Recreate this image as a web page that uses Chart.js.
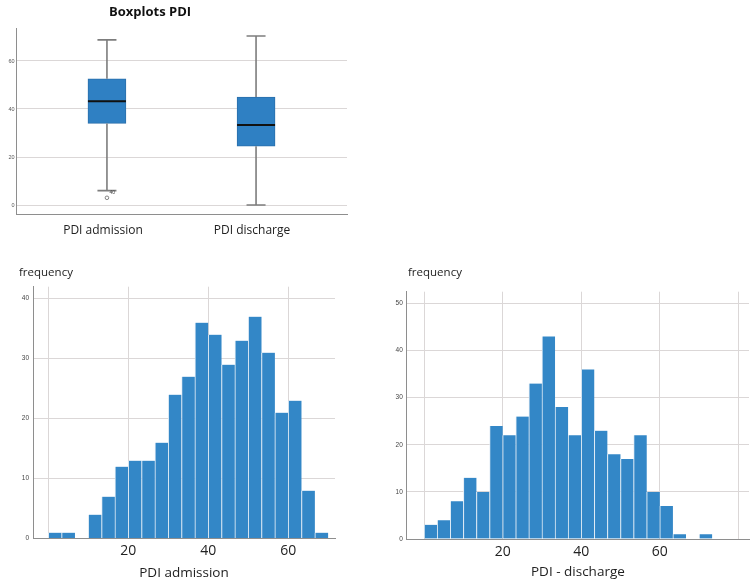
<!DOCTYPE html>
<html><head><meta charset="utf-8">
<script src="https://cdn.jsdelivr.net/npm/chart.js@4.4.1/dist/chart.umd.min.js"></script>
<style>
html,body{margin:0;padding:0;background:#fff;width:753px;height:584px;overflow:hidden;}
canvas{position:absolute;}
#box{left:0;top:0;}
#h1{left:0;top:260px;}
#h2{left:380px;top:260px;}
</style></head><body>
<canvas id="box" width="360" height="245"></canvas>
<canvas id="h1" width="345" height="324"></canvas>
<canvas id="h2" width="373" height="324"></canvas>
<script>
// ---------- data ----------
const BOX_TITLE = 'Boxplots PDI';
const BOX_GROUPS = ['PDI admission', 'PDI discharge'];
const BOX_MIN = [6, 0];
const BOX_Q1 = [34, 24.5];
const BOX_MEDIAN = [43.2, 33.3];
const BOX_Q3 = [52.6, 45];
const BOX_MAX = [68.8, 70.4];
const OUTLIER_GROUP = [0];
const OUTLIER_VALUE = [3];
const OUTLIER_CASE = ['40'];
const BOX_Y_TICKS = [0, 20, 40, 60];

const BIN_WIDTH = 10 / 3;
const ADMISSION_COUNTS = [1, 1, 0, 4, 7, 12, 13, 13, 16, 24, 27, 36, 34, 29, 33, 37, 31, 21, 23, 8, 1];
const DISCHARGE_COUNTS = [3, 4, 8, 13, 10, 24, 22, 26, 33, 43, 28, 22, 36, 23, 18, 17, 22, 10, 7, 1, 0, 1];
const ADMISSION_X_GRID = [0, 20, 40, 60];
const DISCHARGE_X_GRID = [0, 20, 40, 60, 80];
const X_TICK_LABELS = [20, 40, 60];
const ADMISSION_Y_TICKS = [0, 10, 20, 30, 40];
const DISCHARGE_Y_TICKS = [0, 10, 20, 30, 40, 50];
const Y_TITLE = 'frequency';
const ADMISSION_TITLE = 'PDI admission';
const DISCHARGE_TITLE = 'PDI - discharge';

// ---------- styles ----------
const FONT = "'Open Sans', sans-serif";
const TICK_FONT = "'Liberation Sans', Arial, sans-serif";
const GRID = '#dbd7d7';
const AXIS = '#8e8e8e';
const BAR_BLUE = '#3387c7';
const BOX_BLUE = '#2f80c3';

const panelTitle = {
  id: 'panelTitle',
  afterDraw(chart, args, opts) {
    if (!opts || !opts.text) return;
    const ctx = chart.ctx;
    ctx.save();
    ctx.font = opts.font;
    ctx.fillStyle = opts.color;
    ctx.textAlign = opts.align || 'center';
    ctx.textBaseline = 'middle';
    ctx.fillText(opts.text, opts.x, opts.y);
    ctx.restore();
  }
};

const boxWhiskers = {
  id: 'boxWhiskers',
  afterDatasetsDraw(chart) {
    const {ctx, scales: {x, y}} = chart;
    const meta = chart.getDatasetMeta(0);
    ctx.save();
    BOX_GROUPS.forEach((g, i) => {
      const px = x.getPixelForValue(i + 1);
      const cap = 9.5;
      const yMax = y.getPixelForValue(BOX_MAX[i]);
      const yMin = y.getPixelForValue(BOX_MIN[i]);
      ctx.strokeStyle = '#7d7d7d';
      ctx.lineWidth = 1.6;
      ctx.beginPath();
      ctx.moveTo(px, y.getPixelForValue(BOX_Q3[i])); ctx.lineTo(px, yMax);
      ctx.moveTo(px, y.getPixelForValue(BOX_Q1[i])); ctx.lineTo(px, yMin);
      ctx.moveTo(px - cap, yMax); ctx.lineTo(px + cap, yMax);
      ctx.moveTo(px - cap, yMin); ctx.lineTo(px + cap, yMin);
      ctx.stroke();
      const half = meta.data[i].width / 2;
      const yMed = y.getPixelForValue(BOX_MEDIAN[i]);
      ctx.strokeStyle = '#111';
      ctx.lineWidth = 2;
      ctx.beginPath();
      ctx.moveTo(px - half, yMed); ctx.lineTo(px + half, yMed);
      ctx.stroke();
    });
    ctx.font = "5px " + TICK_FONT;
    ctx.fillStyle = '#444';
    ctx.textAlign = 'left';
    ctx.textBaseline = 'middle';
    OUTLIER_GROUP.forEach((g, k) => {
      const px = x.getPixelForValue(g + 1);
      const py = y.getPixelForValue(OUTLIER_VALUE[k]);
      ctx.fillText(OUTLIER_CASE[k], px + 2.5, py - 5);
    });
    ctx.restore();
  }
};

new Chart(document.getElementById('box'), {
  type: 'bar',
  data: {
    datasets: [
      {
        type: 'bar',
        data: BOX_GROUPS.map((g, i) => ({x: i + 1, y: [BOX_Q1[i], BOX_Q3[i]]})),
        backgroundColor: BOX_BLUE,
        borderColor: '#2b6fab',
        borderWidth: 1,
        borderSkipped: false,
        barThickness: 38
      },
      {
        type: 'scatter',
        data: OUTLIER_GROUP.map((g, k) => ({x: g + 1, y: OUTLIER_VALUE[k]})),
        pointRadius: 1.8,
        pointBackgroundColor: '#fff',
        pointBorderColor: '#666',
        pointBorderWidth: 0.8
      }
    ]
  },
  options: {
    responsive: false, animation: false, devicePixelRatio: 1,
    layout: {padding: {top: 28, right: 13, left: 0, bottom: 0}},
    plugins: {
      legend: {display: false}, tooltip: {enabled: false},
      panelTitle: {text: BOX_TITLE, x: 150, y: 12, font: "bold 13px " + FONT, color: '#111'}
    },
    scales: {
      x: {
        type: 'linear', min: 0.39, max: 2.61, offset: false,
        afterBuildTicks: s => { s.ticks = BOX_GROUPS.map((g, i) => ({value: i + 1})); },
        ticks: {callback: v => BOX_GROUPS[v - 1] || '', font: {family: FONT, size: 12}, color: '#222',
                padding: 9, labelOffset: -4, autoSkip: false, maxRotation: 0},
        grid: {display: false, drawTicks: false, offset: false},
        border: {display: true, color: AXIS, width: 1},
        afterFit: s => { s.height = 31; }
      },
      y: {
        min: -3.75, max: 73.75,
        afterBuildTicks: s => { s.ticks = BOX_Y_TICKS.map(v => ({value: v})); },
        ticks: {font: {family: TICK_FONT, size: 5.5}, color: '#555', padding: 1.5},
        grid: {color: GRID, drawTicks: false},
        border: {display: true, color: AXIS, width: 1},
        afterFit: s => { s.width = 16; }
      }
    }
  },
  plugins: [boxWhiskers, panelTitle]
});

function histogram(id, counts, xGrid, yTicks, xTitle, g) {
  return new Chart(document.getElementById(id), {
    type: 'bar',
    data: {
      datasets: [{
        data: counts.map((c, i) => ({x: (i + 0.5) * BIN_WIDTH, y: c})),
        backgroundColor: BAR_BLUE,
        borderColor: 'rgba(225,236,246,0.95)',
        borderWidth: {left: 1, right: 0, top: 0, bottom: 0},
        borderSkipped: 'start',
        barPercentage: 1, categoryPercentage: 1
      }]
    },
    options: {
      responsive: false, animation: false, devicePixelRatio: 1,
      layout: {padding: {left: 0, right: g.padRight, top: g.top, bottom: 0}},
      plugins: {
        legend: {display: false}, tooltip: {enabled: false},
        panelTitle: {text: Y_TITLE, x: g.titleX, y: 13, align: 'left', font: "11.5px " + FONT, color: '#222'}
      },
      scales: {
        x: {
          type: 'linear', min: g.xMin, max: g.xMax, offset: false,
          afterBuildTicks: s => { s.ticks = xGrid.map(v => ({value: v})); },
          ticks: {callback: v => X_TICK_LABELS.includes(v) ? String(v) : '',
                  font: {family: FONT, size: 14}, color: '#222', padding: g.xTickPad,
                  autoSkip: false, maxRotation: 0},
          grid: {color: GRID, drawTicks: false, offset: false},
          border: {display: true, color: AXIS, width: 1, z: 1},
          title: {display: true, text: xTitle, color: '#222', font: {family: FONT, size: 13.5},
                  padding: {top: 0, bottom: g.xTitlePad}},
          afterFit: s => { s.height = g.xHeight; }
        },
        y: {
          min: 0, max: g.yMax,
          afterBuildTicks: s => { s.ticks = yTicks.map(v => ({value: v})); },
          ticks: {font: {family: TICK_FONT, size: 6.5}, color: '#444', padding: 4},
          grid: {color: GRID, drawTicks: false},
          border: {display: true, color: AXIS, width: 1, z: 1},
          afterFit: s => { s.width = g.yWidth; }
        }
      }
    },
    plugins: [panelTitle]
  });
}

histogram('h1', ADMISSION_COUNTS, ADMISSION_X_GRID, ADMISSION_Y_TICKS, ADMISSION_TITLE,
  {titleX: 19, top: 26.7, padRight: 10, yWidth: 33, xMin: -3.83, xMax: 71.7, yMax: 42,
   xHeight: 45.3, xTickPad: 4.2, xTitlePad: 2.9});
histogram('h2', DISCHARGE_COUNTS, DISCHARGE_X_GRID, DISCHARGE_Y_TICKS, DISCHARGE_TITLE,
  {titleX: 28, top: 31.7, padRight: 4, yWidth: 26.8, xMin: -4.41, xMax: 82.7, yMax: 52.5,
   xHeight: 45, xTickPad: 4.6, xTitlePad: 3.4});
</script>
</body></html>
